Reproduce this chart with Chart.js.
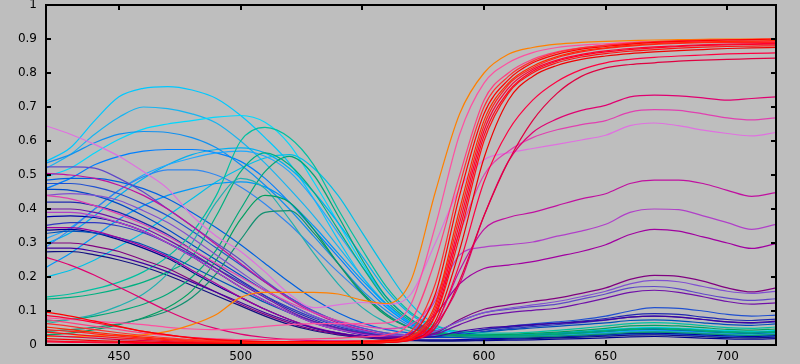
<!DOCTYPE html>
<html><head><meta charset="utf-8">
<script src="https://cdn.jsdelivr.net/npm/chart.js@4/dist/chart.umd.min.js"></script>
<style>html,body{margin:0;padding:0;background:#bebebe;overflow:hidden}</style>
</head><body>
<canvas id="c" width="800" height="364"></canvas>
<script>
const wavelengths = [420,430,440,450,460,470,480,490,500,510,520,530,540,550,560,570,580,590,600,610,620,630,640,650,660,670,680,690,700,710,720];
const xTicks = [450,500,550,600,650,700];
const yTicks = [0,0.1,0.2,0.3,0.4,0.5,0.6,0.7,0.8,0.9,1];
const yTickLabels = ['0','0.1','0.2','0.3','0.4','0.5','0.6','0.7','0.8','0.9','1'];

// cyan
const c1 = [0.54,0.58,0.66,0.73,0.755,0.76,0.75,0.725,0.675,0.61,0.535, 0.43,0.31,0.20,0.115,0.062,0.04,0.03,0.028, 0.028,0.03,0.033,0.036,0.04,0.045,0.046,0.044,0.04,0.036,0.034,0.037];
const c2 = [0.52,0.56,0.62,0.67,0.70,0.695,0.68,0.653,0.60,0.535,0.46, 0.38,0.29,0.20,0.12,0.065,0.04,0.03,0.027, 0.027,0.028,0.03,0.033,0.036,0.04,0.041,0.039,0.036,0.033,0.031,0.034];
const c3 = [0.495,0.52,0.565,0.605,0.635,0.65,0.66,0.67,0.675,0.655,0.59, 0.48,0.36,0.24,0.14,0.075,0.045,0.035,0.03, 0.03,0.032,0.036,0.04,0.045,0.05,0.052,0.05,0.046,0.042,0.04,0.043];
const c4 = [0.298,0.33,0.38,0.44,0.49,0.53,0.56,0.575,0.58,0.565,0.52, 0.45,0.36,0.26,0.16,0.09,0.05,0.035,0.03, 0.03,0.03,0.033,0.036,0.04,0.043,0.044,0.042,0.038,0.035,0.033,0.036];
const c5 = [0.20,0.22,0.25,0.29,0.33,0.38,0.43,0.48,0.52,0.55,0.56, 0.52,0.44,0.33,0.22,0.12,0.06,0.035,0.028, 0.027,0.028,0.03,0.033,0.036,0.04,0.041,0.039,0.036,0.033,0.031,0.034];
// azure / blue
const b1 = [0.535,0.56,0.595,0.62,0.628,0.625,0.61,0.58,0.53,0.47,0.40, 0.32,0.24,0.16,0.10,0.055,0.035,0.025,0.022, 0.022,0.024,0.027,0.03,0.034,0.038,0.04,0.038,0.034,0.03,0.028,0.031];
const b2 = [0.46,0.49,0.53,0.555,0.57,0.575,0.575,0.565,0.54,0.49,0.42, 0.34,0.26,0.18,0.11,0.06,0.035,0.025,0.02, 0.02,0.022,0.025,0.028,0.032,0.036,0.038,0.036,0.032,0.029,0.027,0.03];
const b3 = [0.313,0.345,0.40,0.455,0.50,0.53,0.55,0.565,0.57,0.555,0.51, 0.43,0.33,0.23,0.14,0.075,0.04,0.03,0.025, 0.025,0.027,0.03,0.034,0.038,0.042,0.044,0.042,0.038,0.034,0.032,0.035];
const b4 = [0.228,0.27,0.32,0.37,0.41,0.44,0.46,0.475,0.48,0.465,0.42, 0.35,0.27,0.19,0.12,0.065,0.035,0.025,0.02, 0.02,0.021,0.023,0.026,0.03,0.033,0.035,0.033,0.03,0.027,0.025,0.028];
const b5 = [0.288,0.34,0.40,0.455,0.495,0.515,0.515,0.50,0.465,0.415,0.355, 0.285,0.215,0.15,0.09,0.05,0.03,0.022,0.018, 0.018,0.02,0.022,0.025,0.028,0.031,0.032,0.03,0.027,0.025,0.023,0.026];
const d1 = [0.485,0.49,0.49,0.48,0.46,0.43,0.39,0.345,0.295,0.24,0.185, 0.135,0.095,0.065,0.045,0.035,0.03,0.028,0.027, 0.028,0.03,0.034,0.038,0.042,0.047,0.048,0.046,0.042,0.038,0.036,0.04];
const d2 = [0.475,0.475,0.465,0.445,0.415,0.38,0.335,0.285,0.235,0.185,0.14, 0.10,0.07,0.05,0.035,0.03,0.03,0.035,0.045, 0.055,0.062,0.068,0.075,0.085,0.10,0.11,0.108,0.10,0.09,0.085,0.088];
const d3 = [0.458,0.455,0.44,0.415,0.38,0.34,0.295,0.25,0.205,0.16,0.12, 0.085,0.06,0.042,0.03,0.024,0.022,0.022,0.023, 0.025,0.028,0.032,0.036,0.04,0.045,0.046,0.044,0.04,0.036,0.034,0.037];
const d4 = [0.42,0.42,0.41,0.39,0.36,0.325,0.28,0.235,0.19,0.145,0.105, 0.075,0.05,0.035,0.025,0.022,0.025,0.035,0.045, 0.052,0.058,0.064,0.07,0.078,0.088,0.092,0.09,0.082,0.075,0.072,0.076];
const d5 = [0.377,0.38,0.375,0.36,0.335,0.30,0.26,0.215,0.17,0.13,0.095, 0.065,0.045,0.03,0.02,0.016,0.015,0.016,0.018, 0.02,0.022,0.024,0.027,0.03,0.034,0.035,0.033,0.03,0.027,0.025,0.028];
const d6 = [0.352,0.36,0.36,0.35,0.33,0.30,0.265,0.225,0.185,0.145,0.11, 0.08,0.055,0.04,0.03,0.025,0.025,0.03,0.04, 0.048,0.054,0.06,0.066,0.073,0.082,0.085,0.082,0.075,0.068,0.064,0.068];
const d7 = [0.338,0.34,0.33,0.31,0.285,0.255,0.215,0.175,0.14,0.105,0.075, 0.05,0.035,0.025,0.018,0.014,0.012,0.012,0.013, 0.014,0.015,0.017,0.019,0.021,0.024,0.025,0.023,0.02,0.018,0.017,0.019];
const d8 = [0.328,0.335,0.33,0.315,0.295,0.265,0.23,0.195,0.16,0.125,0.095, 0.07,0.05,0.037,0.028,0.024,0.025,0.03,0.038, 0.045,0.05,0.055,0.06,0.065,0.072,0.074,0.071,0.065,0.06,0.058,0.062];
const d9 = [0.274,0.275,0.265,0.25,0.23,0.205,0.175,0.145,0.115,0.085,0.06, 0.042,0.03,0.022,0.016,0.013,0.012,0.013,0.015, 0.017,0.019,0.021,0.023,0.026,0.029,0.03,0.028,0.025,0.022,0.021,0.023];
// violet / purple
const v1 = [0.524,0.524,0.52,0.49,0.45,0.40,0.35,0.30,0.25,0.19,0.14, 0.10,0.07,0.05,0.035,0.03,0.04,0.07,0.095, 0.105,0.113,0.12,0.135,0.15,0.168,0.172,0.165,0.15,0.138,0.131,0.136];
const mvr = [0.505,0.50,0.49,0.47,0.44,0.40,0.35,0.295,0.24,0.185,0.135, 0.095,0.065,0.045,0.03,0.025,0.06,0.22,0.34, 0.375,0.39,0.41,0.43,0.445,0.475,0.485,0.485,0.475,0.455,0.437,0.448];
const violet = [0.39,0.39,0.38,0.36,0.335,0.30,0.26,0.215,0.17,0.13,0.095, 0.065,0.045,0.032,0.025,0.04,0.13,0.265,0.288, 0.295,0.303,0.32,0.335,0.355,0.39,0.40,0.398,0.38,0.36,0.34,0.355];
const purple = [0.345,0.345,0.335,0.315,0.29,0.26,0.22,0.18,0.14,0.105,0.075, 0.052,0.036,0.026,0.02,0.035,0.09,0.18,0.225, 0.235,0.245,0.26,0.275,0.295,0.325,0.34,0.335,0.318,0.30,0.284,0.298];
const pa = [0.30,0.30,0.29,0.275,0.25,0.225,0.19,0.155,0.12,0.09,0.065, 0.045,0.032,0.024,0.02,0.022,0.035,0.075,0.105, 0.118,0.128,0.138,0.152,0.168,0.193,0.205,0.202,0.188,0.168,0.156,0.168];
const pb = [0.44,0.445,0.44,0.425,0.395,0.36,0.315,0.265,0.215,0.165,0.12, 0.085,0.06,0.042,0.03,0.028,0.04,0.07,0.095, 0.108,0.118,0.128,0.142,0.158,0.18,0.19,0.186,0.172,0.158,0.152,0.158];
const pd = [0.40,0.40,0.39,0.37,0.345,0.31,0.27,0.225,0.18,0.14,0.10, 0.07,0.05,0.035,0.026,0.024,0.032,0.06,0.085, 0.095,0.102,0.108,0.122,0.138,0.155,0.161,0.155,0.142,0.128,0.12,0.124];
const indigo = [0.285,0.285,0.275,0.26,0.24,0.215,0.185,0.155,0.125,0.095,0.07, 0.05,0.035,0.025,0.02,0.02,0.025,0.04,0.05, 0.055,0.06,0.064,0.068,0.074,0.082,0.085,0.082,0.075,0.068,0.066,0.07];
// magenta / pink
const magenta1 = [0.258,0.235,0.205,0.17,0.135,0.10,0.07,0.048,0.032,0.022,0.016, 0.013,0.012,0.012,0.014,0.022,0.06,0.18,0.38, 0.54,0.625,0.665,0.69,0.705,0.73,0.735,0.733,0.727,0.72,0.725,0.73];
const magenta2 = [0.44,0.43,0.41,0.385,0.355,0.32,0.28,0.24,0.20,0.16,0.125, 0.095,0.072,0.056,0.048,0.06,0.14,0.33,0.50, 0.57,0.61,0.633,0.648,0.66,0.685,0.692,0.69,0.68,0.668,0.662,0.668];
const orchid = [0.645,0.62,0.59,0.555,0.51,0.46,0.38,0.32,0.275,0.215,0.15, 0.11,0.118,0.125,0.12,0.15,0.30,0.46,0.545, 0.565,0.578,0.59,0.603,0.617,0.645,0.653,0.645,0.632,0.622,0.615,0.625];
const hotpink1 = [0.08,0.075,0.07,0.065,0.06,0.052,0.047,0.045,0.048,0.055,0.06, 0.063,0.063,0.063,0.065,0.12,0.35,0.62,0.77, 0.83,0.86,0.875,0.882,0.886,0.89,0.892,0.893,0.893,0.893,0.893,0.893];
const hotpink2 = [0.075,0.065,0.055,0.045,0.035,0.028,0.022,0.018,0.016,0.016,0.017, 0.018,0.02,0.024,0.03,0.07,0.25,0.50,0.72, 0.80,0.84,0.862,0.874,0.881,0.886,0.889,0.891,0.892,0.893,0.893,0.893];
// red / orange
const r1 = [0.097,0.085,0.07,0.055,0.04,0.03,0.02,0.015,0.012,0.01,0.01, 0.01,0.01,0.011,0.013,0.03,0.15,0.44,0.68, 0.78,0.83,0.855,0.87,0.878,0.885,0.89,0.893,0.895,0.897,0.898,0.90];
const r2 = [0.053,0.045,0.037,0.03,0.023,0.018,0.014,0.011,0.009,0.008,0.008, 0.008,0.008,0.009,0.011,0.025,0.12,0.40,0.66, 0.77,0.82,0.848,0.865,0.874,0.881,0.886,0.889,0.891,0.893,0.894,0.895];
const r3 = [0.087,0.078,0.066,0.053,0.04,0.03,0.022,0.016,0.012,0.01,0.009, 0.009,0.009,0.01,0.012,0.022,0.10,0.36,0.63, 0.755,0.81,0.838,0.855,0.865,0.872,0.877,0.88,0.883,0.885,0.886,0.887];
const r4 = [0.038,0.032,0.026,0.021,0.017,0.013,0.01,0.008,0.007,0.006,0.006, 0.006,0.006,0.007,0.009,0.018,0.085,0.32,0.60, 0.74,0.80,0.83,0.847,0.857,0.864,0.869,0.873,0.876,0.878,0.879,0.88];
const r5 = [0.019,0.016,0.013,0.011,0.009,0.007,0.006,0.005,0.005,0.005,0.005, 0.005,0.005,0.006,0.008,0.015,0.07,0.28,0.55, 0.72,0.79,0.822,0.84,0.85,0.857,0.862,0.866,0.869,0.872,0.874,0.875];
const r6 = [0.063,0.055,0.045,0.036,0.028,0.021,0.016,0.013,0.011,0.01,0.01, 0.01,0.01,0.012,0.015,0.04,0.18,0.47,0.70, 0.79,0.835,0.86,0.874,0.882,0.888,0.892,0.895,0.897,0.898,0.899,0.90];
const r7 = [0.009,0.008,0.007,0.006,0.005,0.005,0.005,0.005,0.005,0.005,0.005, 0.005,0.005,0.006,0.008,0.014,0.06,0.24,0.48, 0.63,0.72,0.775,0.81,0.83,0.84,0.846,0.85,0.853,0.856,0.858,0.859];
const r8 = [0.028,0.024,0.02,0.016,0.013,0.01,0.008,0.007,0.006,0.006,0.006, 0.006,0.006,0.007,0.009,0.014,0.05,0.19,0.38, 0.54,0.66,0.74,0.79,0.815,0.825,0.83,0.835,0.838,0.84,0.842,0.844];
const r9 = [0.045,0.04,0.033,0.026,0.02,0.016,0.012,0.01,0.008,0.007,0.007, 0.007,0.007,0.008,0.01,0.022,0.11,0.38,0.645, 0.765,0.815,0.845,0.862,0.872,0.879,0.884,0.887,0.889,0.89,0.89,0.89];
const r10 = [0.012,0.01,0.009,0.008,0.007,0.006,0.005,0.005,0.005,0.005,0.005, 0.005,0.005,0.006,0.008,0.02,0.09,0.34,0.615, 0.745,0.805,0.835,0.852,0.862,0.869,0.874,0.878,0.881,0.883,0.884,0.885];
const orange = [0.025,0.025,0.027,0.028,0.03,0.04,0.06,0.09,0.14,0.155,0.155, 0.155,0.15,0.132,0.122,0.19,0.45,0.68,0.80, 0.855,0.875,0.885,0.89,0.893,0.895,0.897,0.898,0.899,0.90,0.90,0.90];
// green / teal
const g1 = [0.141,0.15,0.165,0.185,0.215,0.26,0.33,0.44,0.60,0.64,0.61, 0.53,0.40,0.28,0.17,0.095,0.055,0.04,0.035, 0.035,0.038,0.043,0.049,0.056,0.063,0.066,0.063,0.057,0.051,0.049,0.053];
const g2 = [0.135,0.14,0.15,0.165,0.185,0.215,0.26,0.38,0.51,0.565,0.53, 0.45,0.34,0.23,0.13,0.07,0.04,0.03,0.028, 0.028,0.03,0.034,0.038,0.043,0.048,0.05,0.048,0.044,0.04,0.038,0.041];
const g3 = [0.07,0.075,0.085,0.10,0.12,0.15,0.20,0.28,0.40,0.51,0.555, 0.50,0.38,0.25,0.14,0.075,0.042,0.03,0.026, 0.026,0.028,0.031,0.035,0.04,0.045,0.047,0.045,0.041,0.037,0.035,0.038];
const g4 = [0.063,0.075,0.09,0.115,0.15,0.21,0.30,0.42,0.49,0.46,0.37, 0.27,0.18,0.11,0.065,0.04,0.03,0.025,0.024, 0.024,0.025,0.027,0.03,0.034,0.038,0.04,0.038,0.035,0.032,0.03,0.033];
const g5 = [0.03,0.035,0.045,0.06,0.08,0.11,0.16,0.25,0.37,0.44,0.42, 0.34,0.24,0.15,0.085,0.05,0.035,0.03,0.03, 0.031,0.034,0.038,0.043,0.049,0.056,0.058,0.056,0.051,0.046,0.044,0.047];
const g6 = [0.04,0.045,0.052,0.062,0.078,0.10,0.14,0.21,0.31,0.39,0.395, 0.33,0.24,0.155,0.09,0.05,0.032,0.025,0.023, 0.023,0.024,0.026,0.029,0.032,0.036,0.038,0.036,0.033,0.03,0.028,0.031];

// drawing order: first = bottom
const seriesData = [c1,c2,c3,c4,c5,b1,b2,b3,b4,b5,d1,d2,d3,d4,d5,d6,d7,d8,d9,g1,g2,g3,g4,g5,g6,v1,mvr,violet,purple,pa,pb,pd,indigo,orchid,magenta2,magenta1,hotpink1,hotpink2,orange,r8,r7,r10,r5,r4,r3,r9,r2,r6,r1];
const seriesColors = ['#00c8ff','#18b4f0','#00d8ff','#00b0f0','#00c0e8','#1090f0','#0080ff','#20a8ff','#0098f8','#3088f0','#0060e0','#2050d0','#0048c8','#2028b0','#0000a8','#3038c0','#000090','#0050b8','#101080','#00c0a0','#00b080','#00a878','#20b0b0','#00a060','#109070','#6048c8','#c010a0','#b040c8','#a000a0','#800080','#8050d0','#7010a8','#4000a0','#e070e0','#e040b0','#e00070','#ff50a0','#ff4080','#ff8000','#e00040','#ff0040','#ff0020','#f00000','#ff1010','#ff0030','#ff2020','#ff2800','#ff3030','#ff0000'];

const datasets = seriesData.map((arr, i) => ({
  data: wavelengths.map((w, j) => ({x: w, y: arr[j]})),
  borderColor: seriesColors[i],
  borderWidth: 1.2,
  pointRadius: 0,
  fill: false,
  cubicInterpolationMode: 'monotone',
  tension: 0.4
})).reverse(); // Chart.js draws index 0 on top

const bgPlugin = {
  id: 'bg',
  beforeDraw(chart) {
    const ctx = chart.ctx;
    ctx.save();
    ctx.fillStyle = '#bebebe';
    ctx.fillRect(0, 0, chart.width, chart.height);
    ctx.restore();
  }
};
const framePlugin = {
  id: 'frame',
  afterDatasetsDraw(chart) {
    const {ctx, chartArea: a, scales: {x, y}} = chart;
    ctx.save();
    ctx.strokeStyle = '#000';
    ctx.lineWidth = 2;
    ctx.strokeRect(a.left, a.top, a.right - a.left, a.bottom - a.top);
    const L = 5;
    ctx.beginPath();
    xTicks.forEach(v => {
      const px = Math.round(x.getPixelForValue(v));
      ctx.moveTo(px, a.bottom); ctx.lineTo(px, a.bottom - L);
      ctx.moveTo(px, a.top); ctx.lineTo(px, a.top + L);
    });
    yTicks.forEach(v => {
      const py = Math.round(y.getPixelForValue(v));
      ctx.moveTo(a.left, py); ctx.lineTo(a.left + L, py);
      ctx.moveTo(a.right, py); ctx.lineTo(a.right - L, py);
    });
    ctx.stroke();
    ctx.restore();
  }
};

new Chart(document.getElementById('c'), {
  type: 'line',
  data: {datasets},
  plugins: [bgPlugin, framePlugin],
  options: {
    responsive: false,
    animation: false,
    devicePixelRatio: 1,
    layout: {padding: {top: 5, right: 24, left: 0, bottom: 0}},
    plugins: {legend: {display: false}, tooltip: {enabled: false}},
    scales: {
      x: {
        type: 'linear', min: 420, max: 720,
        afterBuildTicks: s => { s.ticks = xTicks.map(v => ({value: v})); },
        afterFit: s => { s.height = 19; s.paddingLeft = 0; s.paddingRight = 0; },
        grid: {display: false, drawTicks: false},
        border: {display: false},
        ticks: {color: '#000', font: {family: 'DejaVu Sans', size: 12}, padding: 5, maxRotation: 0, autoSkip: false}
      },
      y: {
        type: 'linear', min: 0, max: 1,
        afterBuildTicks: s => { s.ticks = yTicks.map(v => ({value: v})); },
        afterFit: s => { s.width = 46; s.paddingTop = 0; s.paddingBottom = 0; },
        grid: {display: false, drawTicks: false},
        border: {display: false},
        ticks: {color: '#000', font: {family: 'DejaVu Sans', size: 12}, padding: 9, autoSkip: false,
          callback: (v) => yTickLabels[yTicks.findIndex(t => Math.abs(t - v) < 1e-9)]}
      }
    }
  }
});
</script>
</body></html>
